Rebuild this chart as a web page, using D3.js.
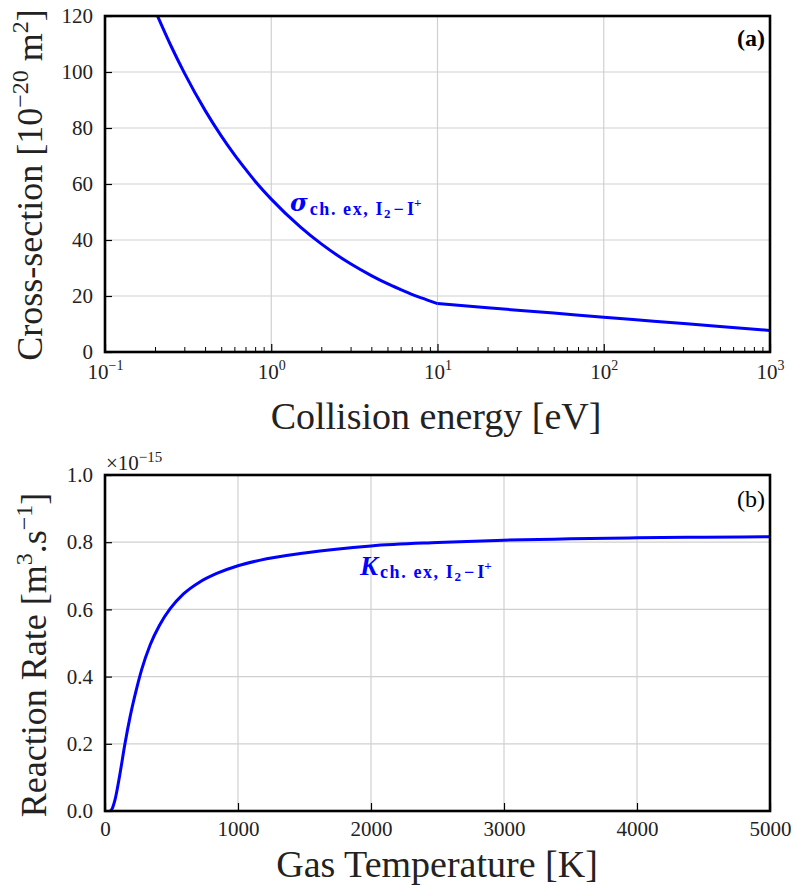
<!DOCTYPE html>
<html><head><meta charset="utf-8">
<script src="https://cdn.jsdelivr.net/npm/d3@7"></script>
<style>body{margin:0;background:#fff}svg{display:block}</style>
</head><body>
<svg id="c" width="796" height="885"></svg>
<script>
// Panel (a) data: charge-exchange cross-section vs collision energy
const energy = [0.207,0.25,0.3,0.4,0.5,0.6,0.7,0.8,1,1.5,2,3,4,5,6,7,8,10,20,50,100,200,500,1000];
const sigma  = [120,109.2,99.7,86.3,77.2,70.5,65.3,61.0,54.6,44.6,38.6,31.5,27.3,24.4,22.3,20.6,19.3,17.3,15.8,13.9,12.4,11.0,9.1,7.7];
const kinkEnergy = 10;
// Panel (b) data: reaction rate (x1e-15) vs gas temperature
const temp = [40,55,75,110,150,190,240,275,340,410,490,590,710,840,1000,1160,1500,2000,2500,3000,3500,4000,4500,5000];
const rate = [0,0.008,0.033,0.105,0.20,0.283,0.368,0.42,0.495,0.553,0.602,0.646,0.681,0.707,0.73,0.746,0.768,0.789,0.799,0.806,0.810,0.813,0.815,0.816];
// tick labels
const yTicksA = [0,20,40,60,80,100,120];
const xTicksA = [0.1,1,10,100,1000];
const xTicksB = [0,1000,2000,3000,4000,5000];
const yTicksB = [0,0.2,0.4,0.6,0.8,1.0];

const SERIF = '"Liberation Serif", "Times New Roman", Tinos, "DejaVu Serif", serif';
const svg = d3.select("#c");
const blue = "#0000ff", grid = "#d0d0d0", ink = "#222";

function frame(g, L, R, T, B){
  g.append("rect").attr("x",L).attr("y",T).attr("width",R-L).attr("height",B-T)
   .attr("fill","none").attr("stroke","#000").attr("stroke-width",2.6);
}
function txt(g){ return g.append("text").style("font-family",SERIF).style("fill",ink); }
function curveLabel(lab, sub){
  lab.append("tspan").attr("font-size",18).attr("dy",sub).attr("dx",2).style("letter-spacing","1.6px").text("ch. ex, I");
  lab.append("tspan").attr("font-size",13).attr("dy",3).style("letter-spacing","0px").text("2");
  lab.append("tspan").attr("font-size",18).attr("dy",-3).attr("dx",3).text("\u2212");
  lab.append("tspan").attr("font-size",18).attr("dx",3).text("I");
  lab.append("tspan").attr("font-size",13).attr("dy",-8).text("+");
}

// ---------- Panel (a) ----------
const A = {L:105,R:770,T:16,B:352};
const xA = d3.scaleLog().domain([0.1,1000]).range([A.L,A.R]);
const yA = d3.scaleLinear().domain([0,120]).range([A.B,A.T]);
const gA = svg.append("g");
gA.selectAll(".gx").data(xTicksA).join("line").attr("x1",d=>xA(d)).attr("x2",d=>xA(d))
  .attr("y1",A.T).attr("y2",A.B).attr("stroke",grid).attr("stroke-width",1.2);
gA.selectAll(".gy").data(yTicksA).join("line").attr("y1",d=>yA(d)).attr("y2",d=>yA(d))
  .attr("x1",A.L).attr("x2",A.R).attr("stroke",grid).attr("stroke-width",1.2);
const minorA = [];
[0.1,1,10,100].forEach(dec=>{for(let k=2;k<=9;k++) minorA.push(dec*k);});
gA.append("g").attr("transform",`translate(0,${A.B})`)
  .call(d3.axisBottom(xA).tickValues(minorA).tickSize(-5).tickFormat(""))
  .call(g=>g.select(".domain").remove()).selectAll("line").attr("stroke-width",1);
const axA = gA.append("g").attr("transform",`translate(0,${A.B})`)
  .call(d3.axisBottom(xA).tickValues(xTicksA).tickSize(-8).tickPadding(12).tickFormat(d=>Math.round(Math.log10(d))));
axA.select(".domain").remove();
axA.selectAll("line").attr("stroke-width",1.2);
axA.selectAll("text").style("font-family",SERIF).style("fill",ink).attr("font-size",21).each(function(d){
  const e = Math.round(Math.log10(d));
  const t = d3.select(this).text("");
  t.append("tspan").text("10");
  t.append("tspan").attr("dy",-9).attr("font-size",14).text(e<0?"\u2212"+(-e):e);
});
const ayA = gA.append("g").attr("transform",`translate(${A.L},0)`)
  .call(d3.axisLeft(yA).tickValues(yTicksA).tickSize(-7).tickPadding(12));
ayA.select(".domain").remove();
ayA.selectAll("line").attr("stroke-width",1.2);
ayA.selectAll("text").style("font-family",SERIF).style("fill",ink).attr("font-size",21);
const ptsA = energy.map((e,i)=>[e,sigma[i]]);
const lineA = d3.line().x(d=>xA(d[0])).y(d=>yA(d[1])).curve(d3.curveMonotoneX);
gA.append("path").datum(ptsA.filter(d=>d[0]<=kinkEnergy)).attr("d",lineA)
  .attr("fill","none").attr("stroke",blue).attr("stroke-width",3);
gA.append("path").datum(ptsA.filter(d=>d[0]>=kinkEnergy)).attr("d",lineA)
  .attr("fill","none").attr("stroke",blue).attr("stroke-width",3);
frame(gA,A.L,A.R,A.T,A.B);
const labA = gA.append("text").attr("x",290).attr("y",211).style("font-family",SERIF).style("fill",blue).attr("font-weight","bold");
labA.append("tspan").attr("font-size",24).attr("font-style","italic").style("font-family",'"DejaVu Serif", serif').text("\u03C3");
curveLabel(labA, 4);
txt(gA).attr("x",765).attr("y",46).attr("text-anchor","end").attr("font-size",24).attr("font-weight","bold").style("fill","#000").text("(a)");
txt(gA).attr("x",436).attr("y",429).attr("text-anchor","middle").attr("font-size",38).text("Collision energy [eV]");
const ytA = txt(gA).attr("transform","translate(42,185) rotate(-90)").attr("text-anchor","middle").attr("font-size",36);
ytA.append("tspan").text("Cross-section [10");
ytA.append("tspan").attr("font-size",24).attr("dy",-14).text("\u221220");
ytA.append("tspan").attr("dy",14).text(" m");
ytA.append("tspan").attr("font-size",24).attr("dy",-14).text("2");
ytA.append("tspan").attr("dy",14).text("]");

// ---------- Panel (b) ----------
const B = {L:105,R:770,T:475,B:811};
const xB = d3.scaleLinear().domain([0,5000]).range([B.L,B.R]);
const yB = d3.scaleLinear().domain([0,1]).range([B.B,B.T]);
const gB = svg.append("g");
gB.selectAll(".gx").data(xTicksB).join("line").attr("x1",d=>xB(d)).attr("x2",d=>xB(d))
  .attr("y1",B.T).attr("y2",B.B).attr("stroke",grid).attr("stroke-width",1.2);
gB.selectAll(".gy").data(yTicksB).join("line").attr("y1",d=>yB(d)).attr("y2",d=>yB(d))
  .attr("x1",B.L).attr("x2",B.R).attr("stroke",grid).attr("stroke-width",1.2);
const axB = gB.append("g").attr("transform",`translate(0,${B.B})`)
  .call(d3.axisBottom(xB).tickValues(xTicksB).tickSize(-8).tickPadding(10).tickFormat(d3.format("d")));
axB.select(".domain").remove();
axB.selectAll("line").attr("stroke-width",1.2);
axB.selectAll("text").style("font-family",SERIF).style("fill",ink).attr("font-size",21);
const ayB = gB.append("g").attr("transform",`translate(${B.L},0)`)
  .call(d3.axisLeft(yB).tickValues(yTicksB).tickSize(-7).tickPadding(12).tickFormat(d3.format(".1f")));
ayB.select(".domain").remove();
ayB.selectAll("line").attr("stroke-width",1.2);
ayB.selectAll("text").style("font-family",SERIF).style("fill",ink).attr("font-size",21);
const ptsB = temp.map((t,i)=>[t,rate[i]]);
gB.append("path").datum(ptsB).attr("d",d3.line().x(d=>xB(d[0])).y(d=>yB(d[1])).curve(d3.curveMonotoneX))
  .attr("fill","none").attr("stroke",blue).attr("stroke-width",3);
frame(gB,B.L,B.R,B.T,B.B);
const off = txt(gB).attr("x",106).attr("y",470).attr("font-size",21);
off.append("tspan").text("\u00D710");
off.append("tspan").attr("font-size",15).attr("dy",-8).text("\u221215");
const labB = gB.append("text").attr("x",360).attr("y",575).style("font-family",SERIF).style("fill",blue).attr("font-weight","bold");
labB.append("tspan").attr("font-size",27).attr("font-style","italic").text("K");
curveLabel(labB, 3);
txt(gB).attr("x",765).attr("y",507).attr("text-anchor","end").attr("font-size",24).style("fill","#000").text("(b)");
txt(gB).attr("x",437).attr("y",877).attr("text-anchor","middle").attr("font-size",38).text("Gas Temperature [K]");
const ytB = txt(gB).attr("transform","translate(46,655) rotate(-90)").attr("text-anchor","middle").attr("font-size",36);
ytB.append("tspan").text("Reaction Rate [m");
ytB.append("tspan").attr("font-size",24).attr("dy",-14).text("3");
ytB.append("tspan").attr("dy",14).text(".s");
ytB.append("tspan").attr("font-size",24).attr("dy",-14).text("\u22121");
ytB.append("tspan").attr("dy",14).text("]");
</script>
</body></html>
